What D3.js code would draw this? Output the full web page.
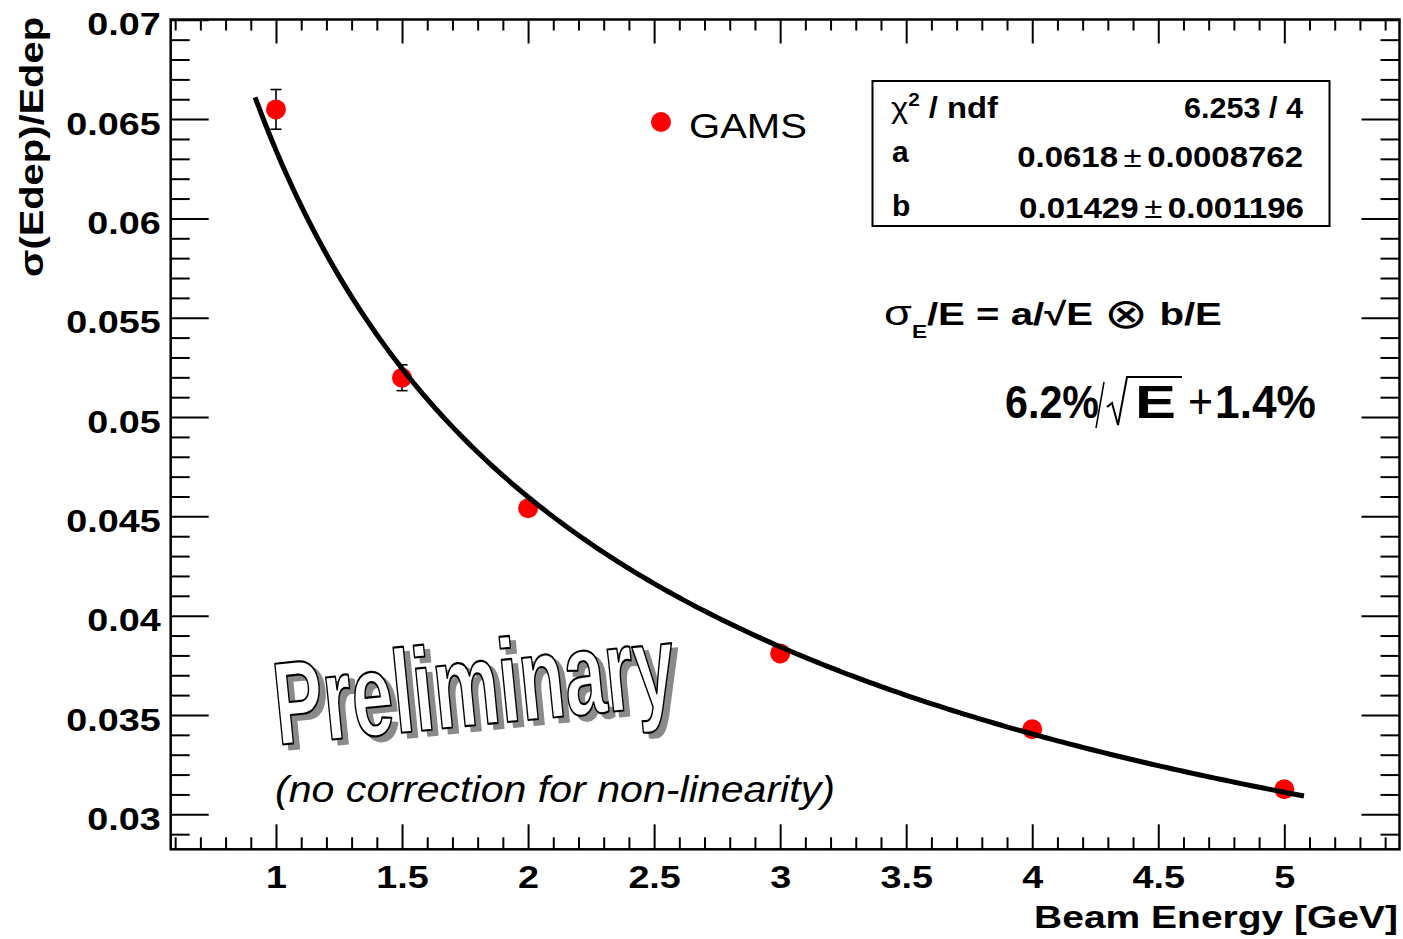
<!DOCTYPE html>
<html><head><meta charset="utf-8">
<script src="https://cdn.jsdelivr.net/npm/d3@7"></script>
<style>
html,body{margin:0;padding:0;background:#fff;}
svg{display:block;font-family:"Liberation Sans",Arial,Helvetica,sans-serif;}
</style></head><body>
<svg id="chart" width="1403" height="939"></svg>
<script>
// Beam energy points (GeV) and measured relative resolution sigma(Edep)/Edep
const beamEnergy = [1, 1.5, 2, 3, 4, 5];
const resolution = [0.06549, 0.05198, 0.04541, 0.03810, 0.03428, 0.03126];
const resolutionErr = [0.0010, 0.00065, 0.0003, 0.0003, 0.0003, 0.0003];

// Fit model: sigma/E = a/sqrt(E) (+) b, summed in quadrature
const fitA = 0.0618;
const fitB = 0.01429;
const fitRange = [0.917, 5.078];

const xTickValues = [1, 1.5, 2, 2.5, 3, 3.5, 4, 4.5, 5];
const xTickLabels = ["1", "1.5", "2", "2.5", "3", "3.5", "4", "4.5", "5"];
const yTickValues = [0.03, 0.035, 0.04, 0.045, 0.05, 0.055, 0.06, 0.065, 0.07];
const yTickLabels = ["0.03", "0.035", "0.04", "0.045", "0.05", "0.055", "0.06", "0.065", "0.07"];

const statsValues = ["6.253 / 4", ["0.0618", "0.0008762"], ["0.01429", "0.001196"]];

const svg = d3.select("#chart");
const frame = {left: 170.7, right: 1399.5, top: 19.5, bottom: 849.3};

const x = d3.scaleLinear().domain([0.5823, 5.457]).range([frame.left, frame.right]);
const y = d3.scaleLinear().domain([0.03, 0.07]).range([814.3, 19.8]);
const yMin = y.invert(frame.bottom);

// text helper: optional horizontal fit to a given advance width
function label(parent, o) {
  const g = parent.append("g")
    .attr("transform", `translate(${o.x},${o.y})` + (o.rotate ? ` rotate(${o.rotate})` : ""));
  const t = g.append("text")
    .attr("text-anchor", o.anchor || "start")
    .style("font-size", o.size + "px")
    .style("font-weight", o.weight || "normal")
    .style("font-style", o.style || "normal")
    .attr("fill", o.fill || "#000");
  if (o.family) t.style("font-family", o.family);
  if (o.stroke) t.attr("stroke", o.stroke).attr("stroke-width", o.strokeWidth).attr("stroke-linejoin", "round");
  if (o.build) o.build(t); else t.text(o.text);
  if (o.width) {
    const w = t.node().getComputedTextLength();
    if (w > 0) t.attr("transform", `scale(${o.width / w},1)`);
  }
  return t;
}

// ---- axes (ticks point inward on all four sides) ----
const xMinor = d3.range(6, 55).map(i => i / 10).filter(v => v >= x.domain()[0] && v <= x.domain()[1] && Math.round(v * 10) % 5 !== 0);
const yMinor = d3.range(29, 71).map(i => i / 1000).filter(v => v >= yMin && Math.round(v * 1000) % 5 !== 0);

function styleAxis(g) {
  g.select(".domain").remove();
  g.selectAll(".tick line").attr("stroke", "#000").attr("stroke-width", 2);
}

// bottom
svg.append("g").attr("transform", `translate(0,${frame.bottom})`)
  .call(d3.axisBottom(x).tickValues(xMinor).tickSize(-12).tickSizeOuter(0).tickFormat(""))
  .call(styleAxis);
const xAxisMajor = svg.append("g").attr("transform", `translate(0,${frame.bottom})`)
  .call(d3.axisBottom(x).tickValues(xTickValues).tickSize(-25).tickSizeOuter(0).tickPadding(16)
    .tickFormat((d, i) => xTickLabels[i]))
  .call(styleAxis);
xAxisMajor.selectAll(".tick text")
  .attr("fill", "#000").style("font-size", "32px").style("font-weight", "bold")
  .style("font-family", '"Liberation Sans",Arial,sans-serif')
  .attr("transform", "scale(1.18,1)");

// top
svg.append("g").attr("transform", `translate(0,${frame.top})`)
  .call(d3.axisTop(x).tickValues(xMinor).tickSize(-11).tickSizeOuter(0).tickFormat(""))
  .call(styleAxis);
svg.append("g").attr("transform", `translate(0,${frame.top})`)
  .call(d3.axisTop(x).tickValues(xTickValues).tickSize(-24).tickSizeOuter(0).tickFormat(""))
  .call(styleAxis);

// left
svg.append("g").attr("transform", `translate(${frame.left},0)`)
  .call(d3.axisLeft(y).tickValues(yMinor).tickSize(-19).tickSizeOuter(0).tickFormat(""))
  .call(styleAxis);
const yAxisMajor = svg.append("g").attr("transform", `translate(${frame.left},0)`)
  .call(d3.axisLeft(y).tickValues(yTickValues).tickSize(-38).tickSizeOuter(0).tickPadding(8.5)
    .tickFormat((d, i) => yTickLabels[i]))
  .call(styleAxis);
yAxisMajor.selectAll(".tick text")
  .attr("fill", "#000").attr("dy", "0.47em").style("font-size", "32px").style("font-weight", "bold")
  .style("font-family", '"Liberation Sans",Arial,sans-serif')
  .attr("transform", "scale(1.18,1)");

// right
svg.append("g").attr("transform", `translate(${frame.right},0)`)
  .call(d3.axisRight(y).tickValues(yMinor).tickSize(-19).tickSizeOuter(0).tickFormat(""))
  .call(styleAxis);
svg.append("g").attr("transform", `translate(${frame.right},0)`)
  .call(d3.axisRight(y).tickValues(yTickValues).tickSize(-38).tickSizeOuter(0).tickFormat(""))
  .call(styleAxis);

// frame
svg.append("rect")
  .attr("x", frame.left).attr("y", frame.top)
  .attr("width", frame.right - frame.left).attr("height", frame.bottom - frame.top)
  .attr("fill", "none").attr("stroke", "#000").attr("stroke-width", 2.5);

// axis titles
label(svg, {x: 1398, y: 928, text: "Beam Energy [GeV]", size: 32, weight: "bold", anchor: "end", width: 364});
label(svg, {x: 43, y: 17, rotate: -90, text: "σ(Edep)/Edep", size: 33, weight: "bold", anchor: "end", width: 260});

// ---- data ----
const pts = beamEnergy.map((e, i) => ({e, v: resolution[i], err: resolutionErr[i]}));

const bars = svg.append("g").attr("stroke", "#000").attr("stroke-width", 1.6);
pts.forEach(p => {
  bars.append("line").attr("x1", x(p.e)).attr("x2", x(p.e)).attr("y1", y(p.v - p.err)).attr("y2", y(p.v + p.err));
  [p.v - p.err, p.v + p.err].forEach(v =>
    bars.append("line").attr("x1", x(p.e) - 5.5).attr("x2", x(p.e) + 5.5).attr("y1", y(v)).attr("y2", y(v)));
});

svg.append("g").selectAll("circle").data(pts).join("circle")
  .attr("cx", d => x(d.e)).attr("cy", d => y(d.v)).attr("r", 10).attr("fill", "#ff0000");

// fit curve
const fitFn = e => Math.sqrt(fitA * fitA / e + fitB * fitB);
const fitPts = d3.range(0, 201).map(i => {
  const e = fitRange[0] + (fitRange[1] - fitRange[0]) * i / 200;
  return [e, fitFn(e)];
});
svg.append("path").datum(fitPts)
  .attr("d", d3.line().x(d => x(d[0])).y(d => y(d[1])))
  .attr("fill", "none").attr("stroke", "#000").attr("stroke-width", 5).attr("stroke-linejoin", "round");

// legend
svg.append("circle").attr("cx", 661).attr("cy", 122).attr("r", 10).attr("fill", "#ff0000");
label(svg, {x: 689, y: 138, text: "GAMS", size: 35, anchor: "start", width: 118});

// ---- fit statistics box ----
svg.append("rect").attr("x", 872.5).attr("y", 81).attr("width", 457).attr("height", 145)
  .attr("fill", "#fff").attr("stroke", "#000").attr("stroke-width", 2);
label(svg, {x: 891, y: 117.5, size: 30, weight: "bold", width: 107, build: t => {
  t.append("tspan").style("font-weight", "normal").text("χ");
  t.append("tspan").attr("dy", -12).style("font-size", "19px").text("2");
  t.append("tspan").attr("dy", 12).text(" / ndf");
}});
label(svg, {x: 1303, y: 117.5, size: 30, weight: "bold", anchor: "end", width: 119, text: statsValues[0]});
label(svg, {x: 892, y: 161.5, size: 30, weight: "bold", text: "a"});
label(svg, {x: 1303, y: 166.5, size: 30, weight: "bold", anchor: "end", width: 275, build: t => {
  t.append("tspan").text(statsValues[1][0]);
  t.append("tspan").attr("dx", 5).style("font-weight", "normal").text("±");
  t.append("tspan").attr("dx", 5).text(statsValues[1][1]);
}});
label(svg, {x: 892, y: 216, size: 30, weight: "bold", text: "b"});
label(svg, {x: 1304, y: 218, size: 30, weight: "bold", anchor: "end", width: 274, build: t => {
  t.append("tspan").text(statsValues[2][0]);
  t.append("tspan").attr("dx", 5).style("font-weight", "normal").text("±");
  t.append("tspan").attr("dx", 5).text(statsValues[2][1]);
}});

// ---- resolution formula ----
label(svg, {x: 884, y: 325, size: 32, weight: "bold", width: 338, build: t => {
  t.append("tspan").style("font-weight", "normal").style("font-size", "36px").text("σ");
  t.append("tspan").attr("dy", 13).style("font-size", "18px").text("E");
  t.append("tspan").attr("dy", -13).text("/E = a/√E ");
  t.append("tspan").attr("dy", 3).style("font-weight", "normal").style("font-family", '"DejaVu Sans",sans-serif').style("font-size", "42px").text("⊗");
  t.append("tspan").attr("dy", -3).text(" b/E");
}});

label(svg, {x: 1005, y: 418, text: "6.2%", size: 46, weight: "bold", width: 94});
svg.append("line").attr("x1", 1104).attr("y1", 382).attr("x2", 1096).attr("y2", 428)
  .attr("stroke", "#000").attr("stroke-width", 1.5);
svg.append("path").attr("d", "M1107,407 L1112,403 L1118,425 L1127,377 L1182,377")
  .attr("fill", "none").attr("stroke", "#000").attr("stroke-width", 2).attr("stroke-linejoin", "miter");
label(svg, {x: 1135, y: 418, text: "E", size: 46, weight: "bold", width: 41});
label(svg, {x: 1200.5, y: 418, text: "+", size: 50, anchor: "middle", width: 25});
label(svg, {x: 1215, y: 418, text: "1.4%", size: 46, weight: "bold", width: 101});

// ---- preliminary stamp ----
const stampFont = '"Liberation Sans Narrow","Liberation Sans",Arial,sans-serif';
label(svg, {x: 284, y: 750, rotate: -5.7, text: "Preliminary", size: 118, weight: "bold",
  family: stampFont, fill: "#8a8a8a", stroke: "#8a8a8a", strokeWidth: 2, width: 402});
label(svg, {x: 278, y: 745, rotate: -5.7, text: "Preliminary", size: 118, weight: "bold",
  family: stampFont, fill: "#fff", stroke: "#000", strokeWidth: 2.2, width: 402});

label(svg, {x: 275, y: 802, text: "(no correction for non-linearity)", size: 37, style: "italic", width: 560});
</script>
</body></html>
